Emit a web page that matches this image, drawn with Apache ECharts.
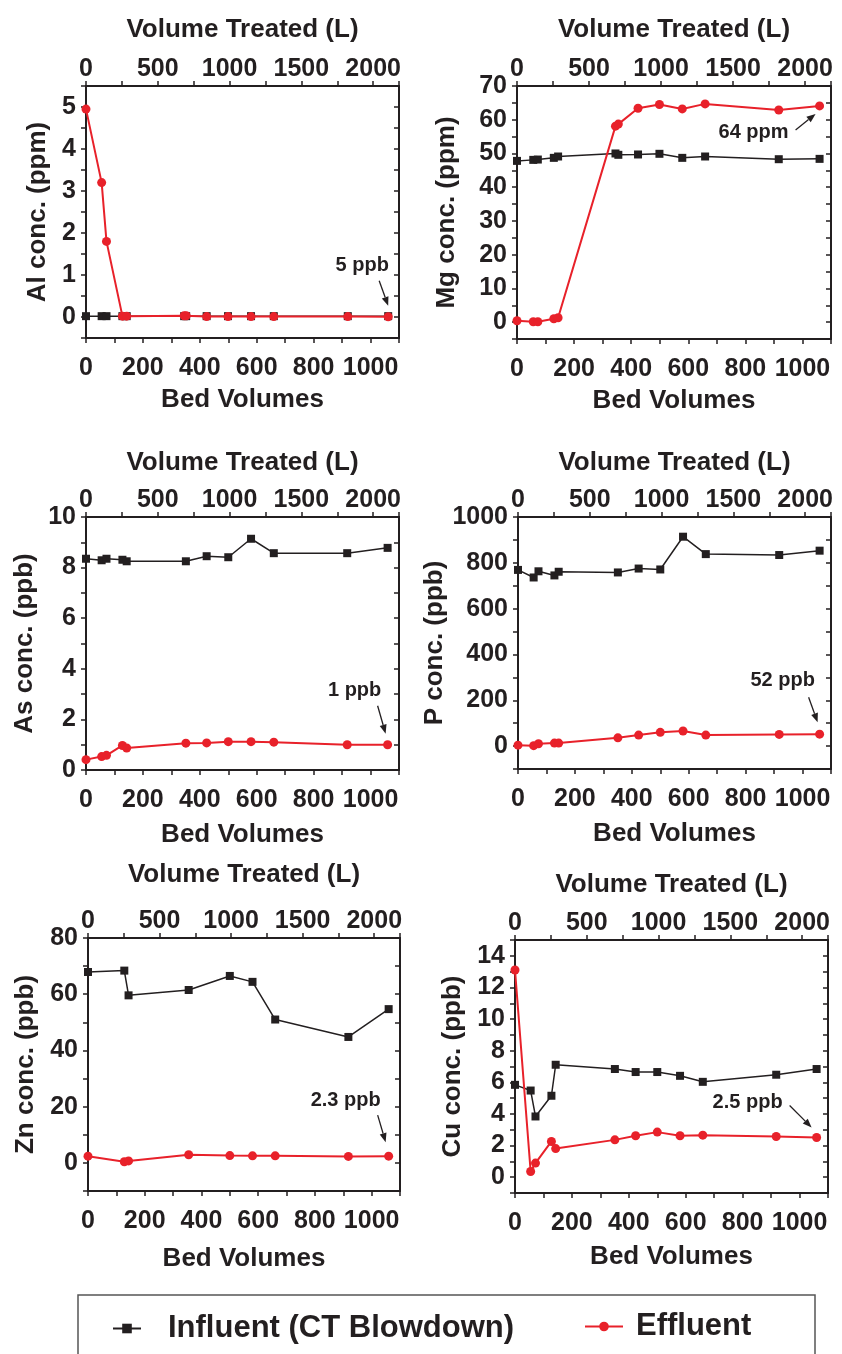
<!DOCTYPE html>
<html>
<head>
<meta charset="utf-8">
<script src="https://cdn.jsdelivr.net/npm/echarts@6/dist/echarts.min.js"></script>
<style>
  html, body { margin: 0; padding: 0; background: #fff; }
  #chart { width: 842px; height: 1354px; }
</style>
</head>
<body>
<div id="chart"></div>
<script>
// bed volumes at each sampling point
const bvAl = [0, 55, 72, 128, 143, 345, 352, 424, 499, 580, 660, 920, 1062];
const bvMg = [0, 57, 73, 129, 144, 345, 355, 424, 499, 579, 659, 917, 1060];
const bvStd = [0, 55, 72, 128, 143, 351, 424, 500, 580, 660, 918, 1060];
const bvZn = [0, 128, 143, 355, 500, 580, 660, 918, 1060];

// concentrations
const alInf = [0.02, 0.02, 0.02, 0.02, 0.02, 0.02, 0.02, 0.02, 0.02, 0.02, 0.02, 0.02, 0.02];
const alEff = [4.95, 3.2, 1.8, 0.02, 0.02, 0.03, 0.03, 0.01, 0.01, 0.01, 0.01, 0.01, 0.005];
const mgInf = [47.8, 48.1, 48.2, 48.7, 49.1, 50.0, 49.6, 49.7, 49.9, 48.7, 49.1, 48.3, 48.4];
const mgEff = [0.4, 0.1, 0.1, 1.0, 1.3, 58.1, 58.7, 63.4, 64.5, 63.2, 64.7, 62.9, 64.1];
const asInf = [8.35, 8.29, 8.35, 8.31, 8.25, 8.25, 8.45, 8.41, 9.14, 8.57, 8.57, 8.78];
const asEff = [0.41, 0.53, 0.58, 0.97, 0.87, 1.06, 1.07, 1.12, 1.12, 1.10, 1.0, 1.0];
const pInf = [769, 736, 763, 745, 761, 758, 775, 771, 914, 838, 834, 853];
const pEff = [4, 2, 10, 13, 13, 36, 48, 60, 66, 48, 51, 52];
const znInf = [67.9, 68.4, 59.6, 61.5, 66.5, 64.4, 51.0, 44.8, 54.7];
const znEff = [2.4, 0.4, 0.7, 2.9, 2.6, 2.5, 2.5, 2.3, 2.4];
const cuInf = [5.84, 5.48, 3.84, 5.15, 7.11, 6.84, 6.65, 6.65, 6.41, 6.03, 6.48, 6.84];
const cuEff = [13.1, 0.36, 0.89, 2.26, 1.81, 2.36, 2.62, 2.85, 2.62, 2.66, 2.57, 2.51];

const bvTicks = [0, 200, 400, 600, 800, 1000];
const volTicks = [0, 500, 1000, 1500, 2000];
const notes = ['5 ppb', '64 ppm', '1 ppb', '52 ppb', '2.3 ppb', '2.5 ppb'];

const INK = '#231f20';
const RED = '#e8212a';
const FONT = '"Liberation Sans", Arial, sans-serif';

const zip = (xs, ys) => xs.map((x, i) => [x, ys[i]]);

// gaps: [top name, bottom name, left name]
const panels = [
  { yName: 'Al conc. (ppm)', bv: bvAl, inf: alInf, eff: alEff, min: -0.5, max: 5.5, step: 0.5, lab: 1, labMax: 5,
    grid: { left: 86, top: 86, width: 313, height: 252 }, gaps: [43, 49, 35], note: [-26, -51, -9, -36, 0, -11] },
  { yName: 'Mg conc. (ppm)', bv: bvMg, inf: mgInf, eff: mgEff, min: -5, max: 70, step: 5, lab: 10, labMax: 70,
    grid: { left: 517, top: 86, width: 314, height: 253 }, gaps: [43, 49, 57], note: [-66, 27, -24, 24, -4, 8] },
  { yName: 'As conc. (ppb)', bv: bvStd, inf: asInf, eff: asEff, min: 0, max: 10, step: 1, lab: 2, labMax: 10,
    grid: { left: 86, top: 517, width: 313, height: 253 }, gaps: [41, 52, 48], note: [-33, -54, -10, -39, -2, -11] },
  { yName: 'P conc. (ppb)', bv: bvStd, inf: pInf, eff: pEff, min: -100, max: 1000, step: 100, lab: 200, labMax: 1000,
    grid: { left: 518, top: 517, width: 313, height: 252 }, gaps: [41, 52, 70], note: [-37, -54, -11, -37, -2, -12] },
  { yName: 'Zn conc. (ppb)', bv: bvZn, inf: znInf, eff: znEff, min: -10, max: 80, step: 10, lab: 20, labMax: 80,
    grid: { left: 88, top: 938, width: 312, height: 253 }, gaps: [50, 55, 49], note: [-43, -56, -11, -41, -3, -14] },
  { yName: 'Cu conc. (ppb)', bv: bvStd, inf: cuInf, eff: cuEff, min: -1, max: 15, step: 1, lab: 2, labMax: 14,
    grid: { left: 515, top: 940, width: 313, height: 253 }, gaps: [42, 51, 49], note: [-69, -35, -27, -32, -5, -10] }
];

const axisLine = { show: true, onZero: false, lineStyle: { color: INK, width: 2 } };
const tickStyle = { color: INK, width: 1.5 };
const labelStyle = { color: INK, fontFamily: FONT, fontWeight: 'bold', fontSize: 25 };
const nameStyle = { color: INK, fontFamily: FONT, fontWeight: 'bold', fontSize: 26 };

const grid = [], xAxis = [], yAxis = [], series = [];

panels.forEach((p, i) => {
  grid.push(p.grid);
  // bottom: bed volumes
  xAxis.push({
    type: 'value', gridIndex: i, position: 'bottom', min: 0, max: 1100, interval: 100,
    name: 'Bed Volumes', nameLocation: 'middle', nameGap: p.gaps[1], nameTextStyle: nameStyle,
    axisLine, splitLine: { show: false },
    axisTick: { show: true, inside: false, length: 5, lineStyle: tickStyle },
    axisLabel: Object.assign({ margin: 18,
      formatter: v => bvTicks.includes(v) ? String(v) : '' }, labelStyle)
  });
  // top: volume treated
  xAxis.push({
    type: 'value', gridIndex: i, position: 'top', min: 0, max: 2180, interval: 250,
    name: 'Volume Treated (L)', nameLocation: 'middle', nameGap: p.gaps[0], nameTextStyle: nameStyle,
    axisLine, splitLine: { show: false },
    axisTick: { show: true, inside: false, length: 5, lineStyle: tickStyle },
    axisLabel: Object.assign({ margin: 4,
      formatter: v => volTicks.includes(v) ? String(v) : '' }, labelStyle)
  });
  const yFmt = v => {
    const k = v / p.lab;
    return (Math.abs(k - Math.round(k)) < 1e-6 && v >= 0 && v <= p.labMax + 1e-9) ? String(Math.round(v)) : '';
  };
  yAxis.push({
    type: 'value', gridIndex: i, position: 'left', min: p.min, max: p.max, interval: p.step,
    name: p.yName, nameLocation: 'middle', nameGap: p.gaps[2], nameRotate: 90, nameTextStyle: nameStyle,
    axisLine, splitLine: { show: false },
    axisTick: { show: true, inside: false, length: 5, lineStyle: tickStyle },
    axisLabel: Object.assign({ margin: 10, formatter: yFmt }, labelStyle)
  });
  yAxis.push({
    type: 'value', gridIndex: i, position: 'right', min: p.min, max: p.max, interval: p.step,
    axisLine, splitLine: { show: false },
    axisTick: { show: true, inside: true, length: 5, lineStyle: tickStyle },
    axisLabel: { show: false }
  });
  series.push({
    name: 'Influent (CT Blowdown)', type: 'line', xAxisIndex: 2 * i, yAxisIndex: 2 * i,
    data: zip(p.bv, p.inf), symbol: 'rect', symbolSize: 8, showAllSymbol: true,
    lineStyle: { color: INK, width: 1.5 }, itemStyle: { color: INK }, z: 2, animation: false
  });
  series.push({
    name: 'Effluent', type: 'line', xAxisIndex: 2 * i, yAxisIndex: 2 * i,
    data: zip(p.bv, p.eff), symbol: 'circle', symbolSize: 9, showAllSymbol: true,
    lineStyle: { color: RED, width: 2 }, itemStyle: { color: RED }, z: 3, animation: false
  });
});

const legendText = { color: INK, fontFamily: FONT, fontWeight: 'bold', fontSize: 31 };

const chart = echarts.init(document.getElementById('chart'), null, { renderer: 'canvas' });
chart.setOption({
  animation: false,
  backgroundColor: '#fff',
  grid, xAxis, yAxis, series,
  legend: [
    { data: ['Influent (CT Blowdown)'], left: 112, top: 1313, padding: 0, itemWidth: 28, itemHeight: 12,
      selectedMode: false, textStyle: Object.assign({ padding: [0, 0, 0, 22] }, legendText) },
    { data: ['Effluent'], left: 584, top: 1311, padding: 0, itemWidth: 38, itemHeight: 12,
      selectedMode: false, textStyle: Object.assign({ padding: [0, 0, 0, 8] }, legendText) }
  ]
});

// annotations pointing at the last effluent value
const graphic = [{
  type: 'rect', shape: { x: 78, y: 1295, width: 737, height: 80 },
  style: { fill: 'none', stroke: '#555', lineWidth: 1.5 }, silent: true
}];
panels.forEach((p, i) => {
  const n = p.bv.length - 1;
  const pt = chart.convertToPixel({ gridIndex: i }, [p.bv[n], p.eff[n]]);
  const o = p.note;
  const x1 = pt[0] + o[2], y1 = pt[1] + o[3], x2 = pt[0] + o[4], y2 = pt[1] + o[5];
  const ang = Math.atan2(y2 - y1, x2 - x1), L = 9, W = 3.5;
  const bx = x2 - L * Math.cos(ang), by = y2 - L * Math.sin(ang);
  graphic.push({
    type: 'text', x: pt[0] + o[0], y: pt[1] + o[1],
    style: { text: notes[i], fill: INK, font: 'bold 20px ' + FONT, align: 'center', verticalAlign: 'middle' }
  });
  graphic.push({
    type: 'line', shape: { x1, y1, x2: bx, y2: by }, style: { stroke: INK, lineWidth: 1.3 }
  });
  graphic.push({
    type: 'polygon',
    shape: { points: [[x2, y2],
      [bx + W * Math.sin(ang), by - W * Math.cos(ang)],
      [bx - W * Math.sin(ang), by + W * Math.cos(ang)]] },
    style: { fill: INK }
  });
});
chart.setOption({ graphic });
</script>
</body>
</html>
